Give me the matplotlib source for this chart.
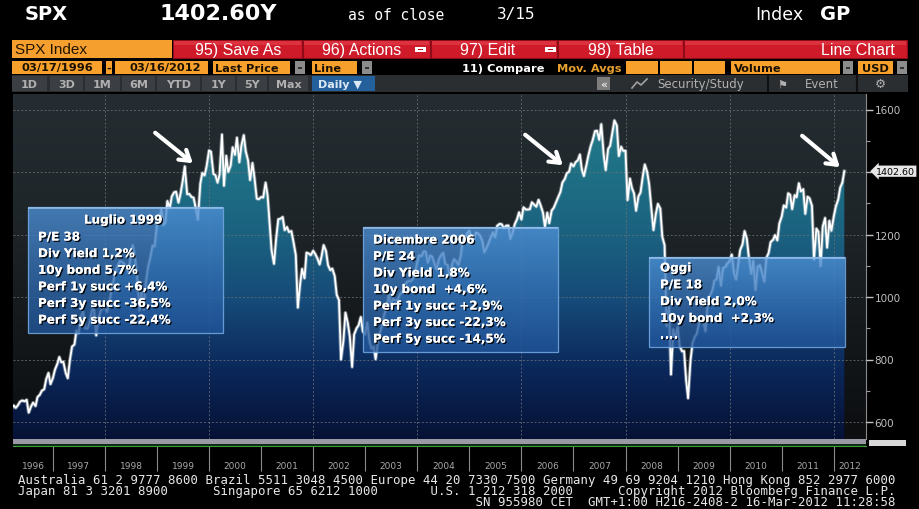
import numpy as np
import pandas as pd
import matplotlib
matplotlib.use("Agg")
import matplotlib.pyplot as plt
import matplotlib.dates as mdates
import matplotlib.patheffects as pe
from matplotlib.colors import LinearSegmentedColormap
from matplotlib.patches import Rectangle
from matplotlib.transforms import blended_transform_factory

# SPX close on the 1st and 15th of each month
spx_1996 = [641, 653, 645, 654, 665, 669, 666, 671, 630, 650, 662, 651, 680, 687, 700, 705, 737, 757, 721]
spx_1997 = [741, 767, 786, 808, 791, 793, 757, 740, 801, 841, 848, 893, 885, 936, 954, 900, 899, 920, 955, 970, 877, 928, 955, 963]
spx_1998 = [970, 952, 980, 1020, 1049, 1080, 1102, 1115, 1112, 1108, 1091, 1078, 1134, 1165, 1121, 1063, 957, 1029, 960, 1047, 1099, 1125, 1164, 1162]
spx_1999 = [1229, 1243, 1280, 1230, 1238, 1307, 1286, 1322, 1335, 1337, 1302, 1330, 1373, 1418, 1329, 1330, 1320, 1318, 1283, 1247, 1363, 1397, 1389, 1418]
spx_2000 = [1469, 1465, 1394, 1390, 1366, 1392, 1520, 1356, 1452, 1400, 1421, 1479, 1455, 1510, 1431, 1484, 1518, 1466, 1437, 1374, 1429, 1382, 1315, 1313]
spx_2001 = [1320, 1318, 1366, 1326, 1240, 1150, 1106, 1183, 1249, 1250, 1256, 1214, 1224, 1208, 1211, 1178, 1134, 966, 1041, 1090, 1060, 1142, 1139, 1134]
spx_2002 = [1148, 1138, 1122, 1104, 1131, 1166, 1147, 1102, 1086, 1091, 1067, 1007, 990, 800, 860, 950, 916, 873, 776, 880, 900, 909, 936, 890]
spx_2003 = [880, 918, 856, 834, 841, 801, 858, 885, 917, 946, 964, 1011, 975, 994, 990, 990, 1008, 1015, 1018, 1046, 1051, 1050, 1058, 1075]
spx_2004 = [1112, 1133, 1131, 1146, 1145, 1110, 1133, 1129, 1107, 1088, 1121, 1133, 1141, 1106, 1102, 1064, 1104, 1121, 1114, 1103, 1130, 1184, 1174, 1204]
spx_2005 = [1212, 1185, 1181, 1206, 1204, 1197, 1181, 1143, 1157, 1172, 1192, 1206, 1191, 1228, 1234, 1233, 1220, 1228, 1229, 1186, 1207, 1233, 1249, 1271]
spx_2006 = [1248, 1287, 1280, 1280, 1281, 1303, 1295, 1289, 1311, 1294, 1270, 1225, 1270, 1236, 1277, 1285, 1304, 1319, 1336, 1366, 1378, 1396, 1401, 1427]
spx_2007 = [1418, 1431, 1438, 1456, 1407, 1387, 1421, 1452, 1482, 1501, 1531, 1532, 1503, 1553, 1455, 1406, 1474, 1484, 1527, 1565, 1549, 1451, 1481, 1468]
spx_2008 = [1468, 1310, 1379, 1349, 1331, 1276, 1323, 1334, 1386, 1424, 1400, 1360, 1280, 1214, 1267, 1298, 1283, 1193, 1166, 907, 969, 752, 896, 868]
spx_2009 = [903, 843, 826, 827, 735, 676, 798, 852, 873, 882, 919, 923, 919, 890, 987, 1004, 1021, 1052, 1057, 1096, 1036, 1093, 1096, 1107]
spx_2010 = [1115, 1136, 1074, 1056, 1104, 1150, 1169, 1211, 1187, 1128, 1074, 1115, 1022, 1096, 1102, 1079, 1049, 1125, 1141, 1176, 1183, 1198, 1181, 1235]
spx_2011 = [1258, 1293, 1286, 1332, 1327, 1281, 1326, 1319, 1364, 1338, 1345, 1266, 1321, 1316, 1292, 1119, 1219, 1209, 1099, 1224, 1253, 1158, 1244, 1212]
spx_2012 = [1258, 1289, 1312, 1350, 1366, 1402.6]

spx = (spx_1996 + spx_1997 + spx_1998 + spx_1999 + spx_2000 + spx_2001 + spx_2002
       + spx_2003 + spx_2004 + spx_2005 + spx_2006 + spx_2007 + spx_2008 + spx_2009
       + spx_2010 + spx_2011 + spx_2012)
dates = pd.date_range("1996-03-15", "2012-03-15", freq="SMS")

years = list(range(1996, 2013))
y_ticks = [600, 800, 1000, 1200, 1400, 1600]
y_labels = ["600", "800", "1000", "1200", "", "1600"]   # 1400 hidden under the price tag
last_price = 1402.60

box1_title = "Luglio 1999"
box1_lines = ["P/E 38", "Div Yield 1,2%", "10y bond 5,7%", "Perf 1y succ +6,4%",
              "Perf 3y succ -36,5%", "Perf 5y succ -22,4%"]
box2_lines = ["Dicembre 2006", "P/E 24", "Div Yield 1,8%", "10y bond  +4,6%",
              "Perf 1y succ +2,9%", "Perf 3y succ -22,3%", "Perf 5y succ -14,5%"]
box3_lines = ["Oggi", "P/E 18", "Div Yield 2,0%", "10y bond  +2,3%", "...."]

footer = [
    "Australia 61 2 9777 8600 Brazil 5511 3048 4500 Europe 44 20 7330 7500 "
    "Germany 49 69 9204 1210 Hong Kong 852 2977 6000",
    "Japan 81 3 3201 8900".ljust(26) + "Singapore 65 6212 1000".ljust(29)
    + "U.S. 1 212 318 2000".ljust(25) + "Copyright 2012 Bloomberg Finance L.P.",
    " " * 61 + "SN 955980 CET  GMT+1:00 H216-2408-2 16-Mar-2012 11:28:58",
]

W, H = 920, 510
fig = plt.figure(figsize=(9.2, 5.1), dpi=100, facecolor="black")

# ---- main chart
ax = fig.add_axes([13 / W, 1 - 440 / H, (866 - 13) / W, (440 - 95) / H])
x_left = pd.Timestamp("1996-03-27")
x_right = pd.Timestamp("2012-08-14")
y_lo, y_hi = 545.6, 1649.6

bg = LinearSegmentedColormap.from_list("bg", ["#0c0e10", "#15191c", "#1f262a", "#252d32"])
ax.imshow(np.linspace(0, 1, 256).reshape(-1, 1), cmap=bg, aspect="auto",
          extent=[0, 1, 0, 1], transform=ax.transAxes, origin="lower", zorder=0)

fill_cmap = LinearSegmentedColormap.from_list(
    "fill", ["#061235", "#0b275a", "#164a78", "#1b6280", "#1f7286", "#26808c"])
poly = ax.fill_between(dates, spx, y_lo - 50, color="none", lw=0)
grad = ax.imshow(np.linspace(0, 1, 256).reshape(-1, 1), cmap=fill_cmap, aspect="auto",
                 extent=[mdates.date2num(x_left), mdates.date2num(x_right), y_lo, y_hi],
                 origin="lower", zorder=1)
grad.set_clip_path(poly.get_paths()[0], ax.transData)

ax.plot(dates, spx, color="#c8d4dc", lw=2.6, alpha=0.45, zorder=3)
ax.plot(dates, spx, color="white", lw=1.3, zorder=4)

ax.set_xlim(x_left, x_right)
ax.set_ylim(y_lo, y_hi)

# grid
ax.set_axisbelow(False)
ax.set_yticks(y_ticks)
ax.set_yticklabels(y_labels)
ax.set_yticks([700, 900, 1100, 1300, 1500], minor=True)
ax.yaxis.grid(True, color="#6a7076", ls=(0, (2, 2)), lw=0.7, alpha=0.8)
for yr in years[2::2]:
    ax.axvline(pd.Timestamp(f"{yr}-01-01"), color="#6a7076", ls=(0, (2, 2)), lw=0.7,
               alpha=0.8, zorder=2.5)

for s in ["left", "top", "bottom"]:
    ax.spines[s].set_visible(False)
ax.spines["right"].set_color("#8a8a8a")
ax.yaxis.tick_right()
ax.tick_params(axis="y", which="major", colors="#c0c0c0", labelsize=7.5, length=5,
               width=1, direction="out", pad=1)
ax.tick_params(axis="y", which="minor", colors="#9a9a9a", length=3, width=0.8)

# x axis: year boundaries as long ticks, labels centred between them
bounds = [x_left] + [pd.Timestamp(f"{y}-01-01") for y in years[1:]] + [x_right]
label_pos = [bounds[i] + (bounds[i + 1] - bounds[i]) / 2 for i in range(len(years))]
ax.set_xticks(bounds[1:-1])
ax.set_xticklabels([])
ax.set_xticks(label_pos, minor=True)
ax.set_xticklabels([str(y) for y in years], minor=True)
ax.tick_params(axis="x", which="major", colors="#8a8a8a", length=23, width=0.8)
ax.tick_params(axis="x", which="minor", length=0, pad=16, labelsize=6.5, labelcolor="#a8a8a8")

# last price tag
tr = blended_transform_factory(ax.transAxes, ax.transData)
ax.text(1.012, last_price, f"{last_price:.2f}", transform=tr, fontsize=6.8, color="black",
        va="center", ha="left",
        bbox=dict(boxstyle="larrow,pad=0.12", fc="#e6e6e6", ec="none"))

# ---- overlay for terminal chrome, boxes and arrows (pixel coords)
ov = fig.add_axes([0, 0, 1, 1], zorder=5)
ov.set_xlim(0, W)
ov.set_ylim(H, 0)
ov.axis("off")
ov.patch.set_alpha(0)


def rect(x0, y0, x1, y1, fc, ec="none", lw=0, z=1, alpha=1):
    ov.add_patch(Rectangle((x0, y0), x1 - x0, y1 - y0, facecolor=fc, edgecolor=ec,
                           lw=lw, zorder=z, alpha=alpha))


# header line
ov.text(25, 14, "SPX", color="white", fontsize=14, fontweight="bold", va="center")
ov.text(160, 14, "1402.60Y", color="white", fontsize=16, fontweight="bold", va="center")
ov.text(348, 15, "as of close", color="white", fontsize=10.5, family="DejaVu Sans Mono",
        va="center")
ov.text(497, 15, "3/15", color="white", fontsize=11.5, family="DejaVu Sans Mono", va="center")
ov.text(755, 15, "Index", color="white", fontsize=12.5, va="center")
ov.text(820, 14, "GP", color="white", fontsize=14, fontweight="bold", va="center")

# red button row
rect(12, 41, 172, 59, "#f5a02e")
ov.text(15, 50.5, "SPX Index", color="#221400", fontsize=11, family="Liberation Sans", va="center")
red_btns = [(173, 302), (303, 430), (431, 557), (558, 683), (684, 907)]
for x0, x1 in red_btns:
    rect(x0, 41, x1, 59, "#cf1a2a", ec="#8e0c18", lw=0.8)
    rect(x0 + 1, 41.5, x1 - 1, 46, "#e6414c", alpha=0.6)
btn_font = dict(color="white", fontsize=11.5, family="Liberation Sans", va="center")
ov.text(195, 50.5, "95) Save As", **btn_font)
ov.text(322, 50.5, "96) Actions", **btn_font)
ov.text(460, 50.5, "97) Edit", **btn_font)
ov.text(588, 50.5, "98) Table", **btn_font)
ov.text(895, 50.5, "Line Chart", ha="right", **btn_font)
for x0 in [415, 545]:
    rect(x0, 48, x0 + 11, 53, "white")
    rect(x0 + 3, 50, x0 + 8, 51.2, "#b01020", z=2)

# settings row
orange = "#f7a12c"
dark = "#1a1000"
row_font = dict(fontsize=8.2, fontweight="bold", va="center")
rect(12, 62, 102, 75, orange)
ov.text(57, 68.5, "03/17/1996", color=dark, ha="center", **row_font)
rect(106, 62, 112, 75, orange)
ov.text(109, 68.5, "-", color=dark, ha="center", **row_font)
rect(115, 62, 208, 75, orange)
ov.text(165, 68.5, "03/16/2012", color=dark, ha="center", **row_font)
rect(213, 62, 290, 75, orange)
ov.text(215, 68.5, "Last Price", color=dark, **row_font)
rect(312, 62, 357, 75, orange)
ov.text(314, 68.5, "Line", color=dark, **row_font)
for x0 in [295, 362, 843, 897]:
    rect(x0, 62, x0 + 10, 75, "#8c8c8c")
    rect(x0 + 3, 68, x0 + 7, 70, "#333333", z=2)
ov.text(462, 68.5, "11) Compare", color="white", **row_font)
ov.text(557, 68.5, "Mov. Avgs", color="#e8a030", **row_font)
for x0, x1 in [(626, 658), (660, 692), (694, 725)]:
    rect(x0, 62, x1, 75, orange)
rect(731, 62, 840, 75, orange)
ov.text(734, 68.5, "Volume", color=dark, **row_font)
rect(858, 62, 893, 75, orange)
ov.text(862, 68.5, "USD", color=dark, **row_font)

# toolbar row
rect(12, 76, 908, 93, "#2b2e31")
tabs = [("1D", 12, 47), ("3D", 50, 83), ("1M", 85, 120), ("6M", 122, 155),
        ("YTD", 157, 200), ("1Y", 202, 235), ("5Y", 237, 267), ("Max", 269, 308)]
for lab, x0, x1 in tabs:
    rect(x0, 77, x1, 92, "#3b3e42")
    ov.text((x0 + x1) / 2, 84.5, lab, color="#b0b0b0", fontsize=8, fontweight="bold",
            ha="center", va="center")
rect(312, 77, 375, 92, "#23609c")
ov.text(318, 84.5, "Daily \u25BC", color="#dce8f4", fontsize=8, fontweight="bold", va="center")
rect(597, 78, 610, 91, "#7d7d7d")
ov.text(603.5, 84.5, "\u00AB", color="white", fontsize=8, ha="center", va="center")
ov.plot([632, 637, 641, 647], [89, 83, 86, 80], color="#a0a0a0", lw=1.2)
ov.text(657, 84.5, "Security/Study", color="#b0b0b0", fontsize=8.5, va="center")
for x0 in [768, 857]:
    ov.plot([x0, x0], [77, 92], color="#111111", lw=1.5)
ov.text(782, 84.5, "\u2691", color="#b0b0b0", fontsize=8, ha="center", va="center")
ov.text(805, 84.5, "Event", color="#b0b0b0", fontsize=8.5, va="center")
ov.text(880, 84.5, "\u2699", color="#b0b0b0", fontsize=9, ha="center", va="center")

# strip under the chart
rect(13, 440, 866, 445, "#9a9aa4")
rect(13, 445, 866, 448, "#0f2a12")
ov.plot([13, 866], [446.5, 446.5], color="#48c048", lw=0.8, alpha=0.8)
rect(869, 441, 906, 447, "#d8d8d8")

# footer, one monospaced block
ov.text(18, 474, "\n".join(footer), color="#e8e8e8", fontsize=8.9, family="DejaVu Sans Mono",
        va="top", ha="left", multialignment="left", linespacing=0.78)

# info boxes
box_cmap = LinearSegmentedColormap.from_list("box", ["#4d8fd4", "#3470b4", "#21559a"])
shadow = [pe.withSimplePatchShadow(offset=(1, -1), shadow_rgbFace="black", alpha=0.9),
          pe.Normal()]
box_font = dict(color="white", fontsize=8.6, family="DejaVu Sans", fontweight="bold",
                va="center", path_effects=shadow)


def info_box(x0, y0, x1, y1):
    ov.imshow(np.linspace(0, 1, 64).reshape(-1, 1), cmap=box_cmap, aspect="auto",
              extent=[x0, x1, y1, y0], origin="upper", alpha=0.8, zorder=3)
    rect(x0, y0, x1, y1, "none", ec="#6fa6e0", lw=0.9, z=4, alpha=0.9)
    rect(x0, y0, x1, y0 + 2, "#9cc4ee", z=4, alpha=0.7)


info_box(28, 208, 223, 334)
ov.text(123, 221, box1_title, ha="center", zorder=6, **box_font)
for i, line in enumerate(box1_lines):
    ov.text(38, 238 + i * 16.6, line, zorder=6, **box_font)

info_box(363, 228, 558, 353)
for i, line in enumerate(box2_lines):
    ov.text(373, 241 + i * 16.5, line, zorder=6, **box_font)

info_box(649, 258, 845, 348)
for i, line in enumerate(box3_lines):
    ov.text(660, 269 + i * 16.8, line, zorder=6, **box_font)

# arrows
for (xs, ys), (xe, ye) in [((153, 132), (195, 166)), ((523, 134), (565, 168)),
                           ((800, 135), (842, 170))]:
    ov.annotate("", xy=(xe, ye), xytext=(xs, ys), zorder=7,
                arrowprops=dict(arrowstyle="->,head_length=0.7,head_width=0.45",
                                color="white", lw=3))

ov.set_xlim(0, W)
ov.set_ylim(H, 0)

fig.savefig("out.png", dpi=100, facecolor="black")
